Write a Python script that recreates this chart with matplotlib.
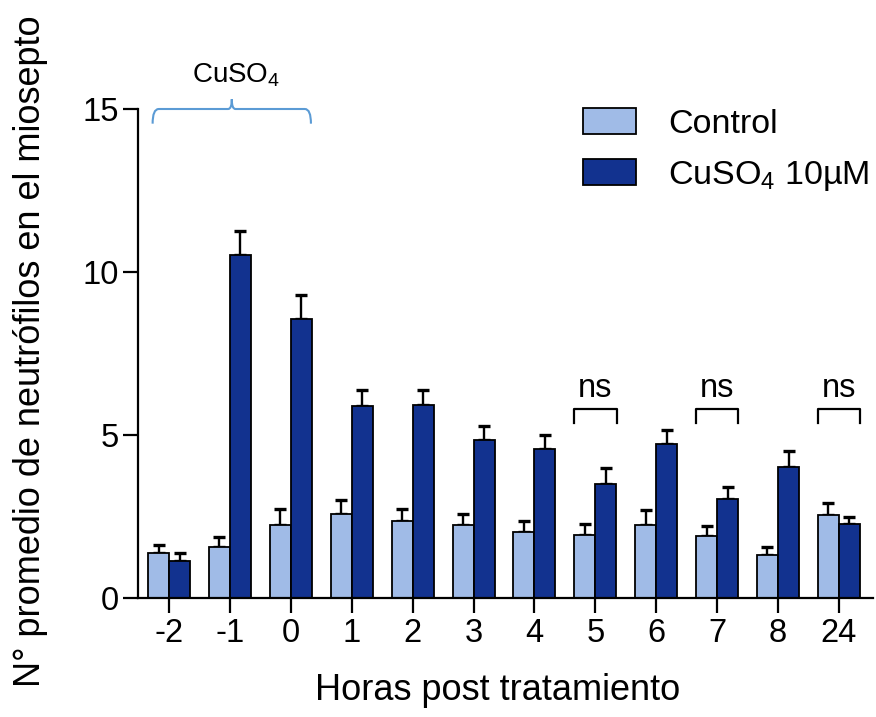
import matplotlib
matplotlib.use("Agg")
import matplotlib.pyplot as plt
import numpy as np
from matplotlib.path import Path
from matplotlib.patches import PathPatch, Patch

plt.rcParams['font.family'] = ['Liberation Sans', 'DejaVu Sans']
plt.rcParams['mathtext.default'] = 'regular'

# Data: mean neutrophil count in the myoseptum (mean + SEM)
hours = ["-2", "-1", "0", "1", "2", "3", "4", "5", "6", "7", "8", "24"]
control_mean = [1.38, 1.55, 2.25, 2.57, 2.37, 2.23, 2.02, 1.94, 2.25, 1.90, 1.31, 2.56]
control_sem = [0.26, 0.32, 0.49, 0.45, 0.35, 0.34, 0.34, 0.34, 0.44, 0.31, 0.24, 0.34]
cuso4_mean = [1.13, 10.52, 8.56, 5.90, 5.93, 4.86, 4.57, 3.51, 4.71, 3.05, 4.02, 2.28]
cuso4_sem = [0.26, 0.73, 0.73, 0.47, 0.46, 0.41, 0.44, 0.48, 0.43, 0.34, 0.50, 0.20]
ns_hours = ["5", "7", "24"]
treated_hours = ["-2", "-1", "0"]

c_light = "#a0bbe7"
c_dark = "#12328f"
c_brace = "#5b9bd5"

fig = plt.figure(figsize=(8.76, 7.17), dpi=100)
ax = fig.add_axes([138 / 876, 1 - 598 / 717, (873 - 138) / 876, (598 - 109) / 717])

x = np.arange(len(hours))
w = 0.345
ax.bar(x - w / 2, control_mean, w, color=c_light, edgecolor="black", linewidth=1.3, zorder=2)
ax.bar(x + w / 2, cuso4_mean, w, color=c_dark, edgecolor="black", linewidth=1.3, zorder=2)
ax.errorbar(x - w / 2, control_mean, yerr=[np.zeros(len(x)), control_sem], fmt="none",
            ecolor="black", elinewidth=1.7, capsize=4.5, capthick=2.4, zorder=1)
ax.errorbar(x + w / 2, cuso4_mean, yerr=[np.zeros(len(x)), cuso4_sem], fmt="none",
            ecolor="black", elinewidth=1.7, capsize=4.5, capthick=2.4, zorder=1)

ax.set_xlim(-0.51, 11.56)
ax.set_ylim(0, 15)
ax.set_yticks([0, 5, 10, 15])
ax.set_xticks(x)
ax.set_xticklabels(hours)
for s in ["top", "right"]:
    ax.spines[s].set_visible(False)
for s in ["left", "bottom"]:
    ax.spines[s].set_linewidth(1.6)
ax.tick_params(axis="both", width=1.6, length=10.5, labelsize=23.5, color="black")
ax.tick_params(axis="x", pad=4)
ax.tick_params(axis="y", pad=3)

# "ns" brackets
for h in ns_hours:
    i = hours.index(h)
    xl, xr = i - 0.35, i + 0.35
    ax.plot([xl, xl, xr, xr], [5.36, 5.79, 5.79, 5.36], color="black", lw=1.6, zorder=3)
    ax.text(i, 5.95, "ns", ha="center", va="bottom", fontsize=23.5)

# Treatment brace over the first groups
i0 = hours.index(treated_hours[0]) - 0.27
i1 = hours.index(treated_hours[-1]) + 0.33
xc = (i0 + i1) / 2
yb, ye, yp = 15.0, 14.55, 15.3
verts = [(i0, ye), (i0, yb), (i0 + 0.1, yb),
         (xc - 0.06, yb), (xc, yb), (xc, yp),
         (xc, yb), (xc + 0.06, yb),
         (i1 - 0.1, yb), (i1, yb), (i1, ye)]
codes = [Path.MOVETO, Path.CURVE3, Path.CURVE3,
         Path.LINETO, Path.CURVE3, Path.CURVE3,
         Path.CURVE3, Path.CURVE3,
         Path.LINETO, Path.CURVE3, Path.CURVE3]
ax.add_patch(PathPatch(Path(verts, codes), facecolor="none", edgecolor=c_brace,
                       lw=1.5, clip_on=False))
ax.text(xc + 0.07, 16.05, "CuSO$_4$", ha="center", va="center", fontsize=20, clip_on=False)

handles = [Patch(facecolor=c_light, edgecolor="black", linewidth=1.3),
           Patch(facecolor=c_dark, edgecolor="black", linewidth=1.3)]
fig.legend(handles, ["Control", "CuSO$_4$ 10µM"], loc="upper left",
           bbox_to_anchor=(583 / 876, 1 - 108 / 717), frameon=False, fontsize=24.5,
           handlelength=1.55, handleheight=0.82, handletextpad=0.95,
           labelspacing=0.55, borderpad=0, borderaxespad=0)

fig.text(498 / 876, 1 - 690 / 717, "Horas post tratamiento", ha="center", va="center", fontsize=26)
fig.text(31 / 876, 1 - 351 / 717, "N° promedio de neutrófilos en el miosepto",
         ha="center", va="center", rotation=90, fontsize=26)

fig.savefig("out.png", dpi=100, facecolor="white")
